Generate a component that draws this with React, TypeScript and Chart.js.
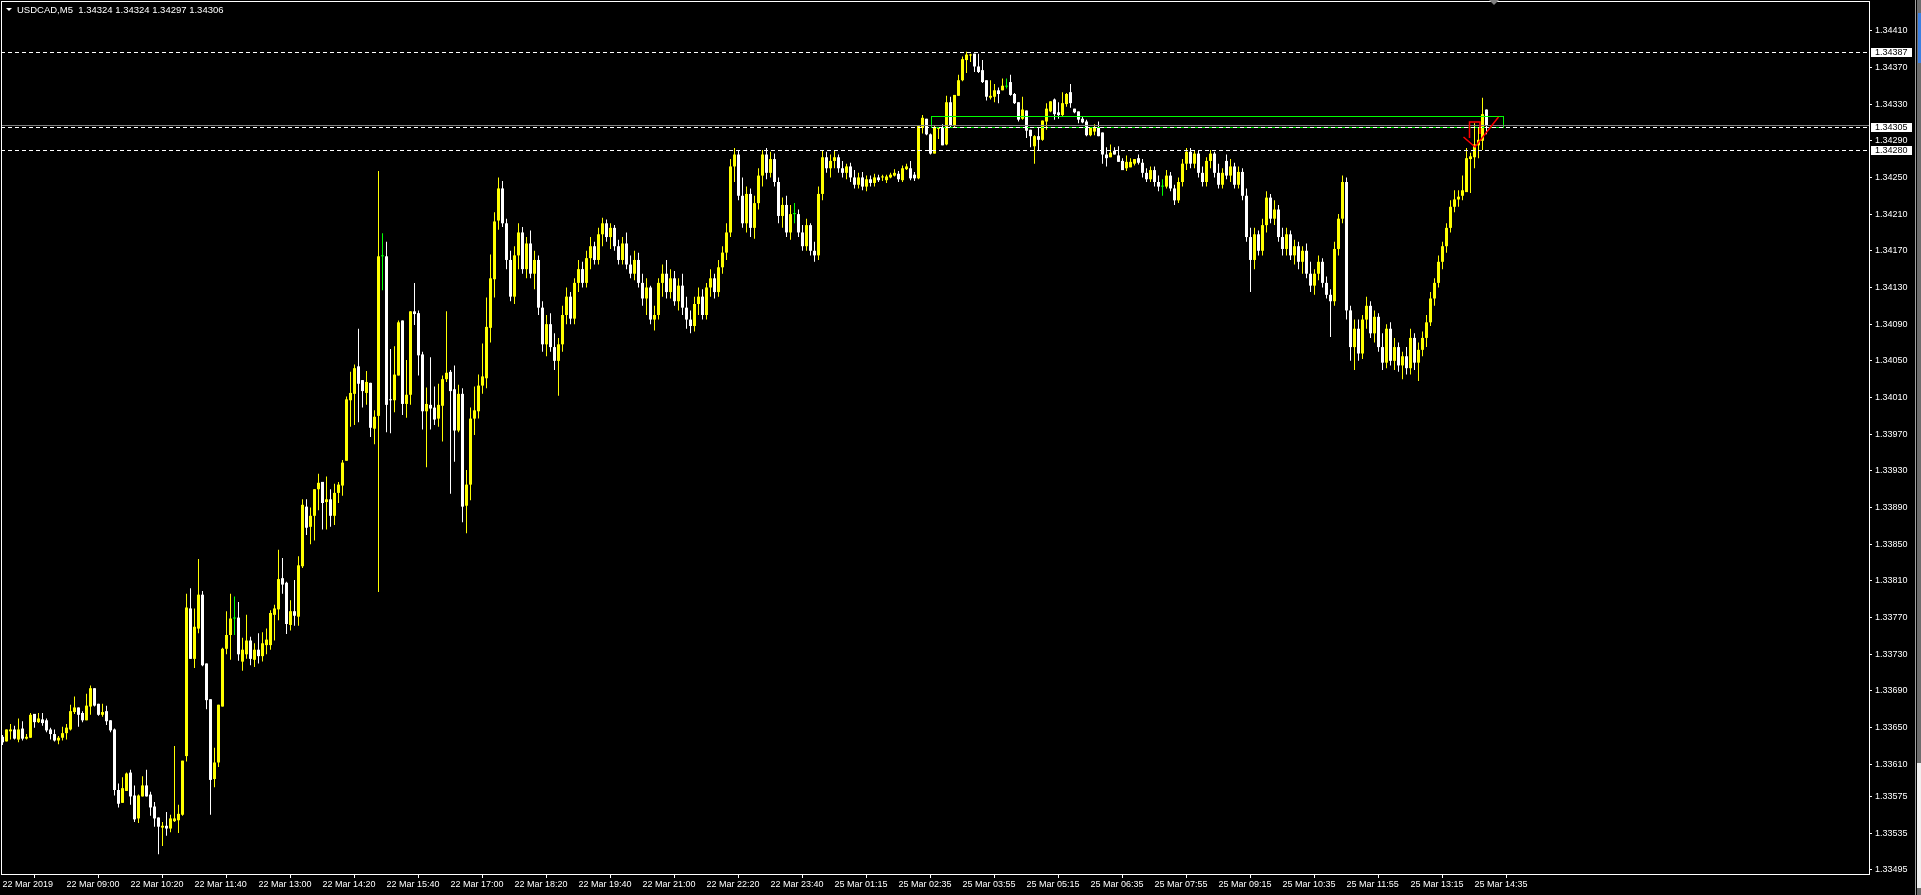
import React, { useEffect, useRef } from 'react';
import { Chart, registerables } from 'chart.js';

Chart.register(...registerables);

// ---- data (prices stored as points above BASE, 1 point = 0.00001) ----
const SYMBOL = 'USDCAD,M5';
const BASE = 1.33;
const POINT = 0.00001;

const openPts = [
  640,635,646,648,637,649,638,639,665,656,
  659,658,648,643,636,639,644,648,667,672,
  666,658,673,693,676,664,668,658,648,582,
  568,581,601,576,551,575,587,577,564,552,
  541,543,540,548,549,555,619,780,725,758,
  795,720,681,594,612,673,736,751,769,770,
  722,730,745,724,735,728,740,740,773,779,
  813,808,762,777,771,826,891,869,881,910,
  918,896,899,881,906,914,941,1007,1014,1044,
  1029,1015,1026,976,990,1164,1164,1008,1007,1034,
  1094,1003,1013,1104,1102,1057,995,1002,999,987,
  1001,1030,1038,1019,974,1014,892,915,987,995,
  1023,1031,1086,1139,1203,
  1238,1200,1160,1120,1165,
  1190,1150,1178,1145,1160,1108,1068,1090,1065,1050,
  1068,1100,1120,1096,1135,1150,1135,1162,1175,1160,
  1188,1200,1185,1195,1175,1160,1178,1155,1145,1160,
  1135,1118,1130,1095,1100,1135,1145,1125,1140,1115,
  1132,1108,1095,1088,1112,1120,1100,1130,1140,1125,
  1152,1168,1190,1262,1275,1230,1200,1232,1195,1222,
  1252,1275,1255,1270,1245,1208,1220,1190,1210,1210,
  1190,1175,1198,1170,1165,1232,1272,1260,1268,1272,
  1260,1255,1262,1250,1242,1250,1240,1248,1244,1250,
  1250,1247,1250,1252,1254,1247,1259,1260,1253,1249,
  1304,1314,1297,1276,1303,1304,1286,1332,1306,1339,
  1356,1378,1383,1385,1371,1367,1356,1337,1338,1345,
  1345,1349,1354,1341,1332,1314,1323,1302,1284,1295,
  1291,1311,1322,1335,1321,1318,1330,1343,1325,1322,
  1314,1311,1296,1300,1305,1299,1275,1272,1279,1274,
  1268,1260,1261,1265,1271,
  1266,1255,1248,1258,1245,
  1240,1240,1252,1238,1225,1245,1265,1278,1265,1276,
  1255,1245,1268,1276,1255,1242,1268,1252,1262,1242,
  1256,1230,1185,1160,1188,1170,1198,1228,1205,1215,
  1185,1172,1188,1165,1175,1158,1170,1145,1132,1145,
  1158,1135,1122,1115,1172,1205,1245,1105,1065,1085,
  1058,1095,1110,1080,1098,1065,1048,1085,1050,1065,
  1045,1055,1042,1075,1048,1062,1075,1092,1118,1135,
  1158,1175,1195,1218,1226,1230,1234,1270,1272,1285,
  1290,1324,
];

const highPts = [
  642,648,654,652,660,657,643,666,665,666,
  666,660,650,648,641,651,654,675,684,672,
  668,687,696,693,676,676,674,658,649,589,
  596,601,604,587,577,597,604,580,569,552,
  547,558,555,630,566,614,796,802,780,834,
  799,720,681,628,675,737,777,796,793,787,
  748,773,749,742,753,754,758,778,784,844,
  835,809,789,811,837,899,899,890,910,927,
  918,924,910,916,918,942,1011,1038,1046,1085,
  1029,1039,1026,996,1257,1189,1180,1063,1066,1094,
  1094,1051,1104,1135,1105,1060,1021,1054,1022,1025,
  1034,1104,1040,1045,1024,1020,931,999,1022,1035,
  1069,1119,1166,1212,1250,
  1246,1205,1170,1175,1200,
  1196,1185,1192,1170,1165,1115,1100,1102,1080,1075,
  1110,1130,1125,1140,1160,1158,1170,1185,1180,1195,
  1206,1204,1200,1198,1182,1185,1190,1165,1170,1168,
  1145,1140,1132,1110,1140,1155,1160,1150,1148,1140,
  1145,1120,1105,1120,1130,1128,1135,1150,1145,1160,
  1175,1200,1270,1282,1280,1250,1240,1238,1230,1260,
  1280,1282,1278,1276,1250,1228,1230,1220,1222,1215,
  1198,1205,1200,1180,1240,1280,1278,1275,1280,1275,
  1268,1265,1266,1258,1255,1256,1252,1252,1254,1253,
  1253,1253,1255,1259,1257,1263,1265,1268,1256,1307,
  1318,1314,1298,1307,1305,1308,1339,1338,1340,1362,
  1382,1387,1385,1385,1385,1378,1356,1356,1352,1348,
  1358,1358,1362,1342,1332,1338,1323,1302,1296,1304,
  1312,1331,1333,1336,1332,1343,1342,1352,1325,1322,
  1316,1313,1304,1308,1311,1299,1283,1286,1283,1284,
  1271,1274,1271,1270,1275,
  1270,1260,1262,1262,1252,
  1248,1258,1256,1242,1250,1270,1282,1282,1280,1280,
  1262,1272,1280,1278,1265,1260,1275,1270,1266,1262,
  1260,1238,1195,1195,1192,1205,1235,1232,1225,1220,
  1195,1195,1192,1182,1180,1175,1178,1158,1150,1165,
  1162,1142,1128,1180,1210,1252,1250,1110,1095,1095,
  1100,1120,1115,1105,1102,1080,1090,1092,1075,1070,
  1060,1065,1085,1080,1070,1082,1100,1125,1140,1165,
  1180,1200,1225,1236,1236,1252,1282,1277,1309,1304,
  1337,1324,
];

const lowPts = [
  631,635,637,637,634,636,637,639,650,655,
  652,645,637,635,632,636,637,647,665,651,
  656,658,664,673,663,662,653,645,576,563,
  568,581,566,547,546,575,575,554,542,512,
  521,532,536,547,535,554,613,725,715,753,
  717,670,555,585,607,673,730,724,751,723,
  712,725,718,716,720,722,730,735,745,767,
  796,752,756,761,761,824,860,850,854,887,
  866,866,869,871,895,903,941,978,980,983,
  999,1002,967,959,798,1127,972,971,994,1034,
  991,988,1002,1089,1034,975,934,975,980,978,
  962,1027,905,940,972,874,862,898,969,987,
  1014,1020,1070,1119,1193,
  1196,1150,1115,1112,1150,
  1145,1140,1140,1128,1100,1060,1055,1060,1040,1012,
  1060,1090,1090,1090,1125,1130,1130,1150,1155,1155,
  1175,1180,1172,1170,1155,1155,1150,1140,1138,1130,
  1110,1100,1090,1083,1095,1120,1118,1118,1110,1105,
  1100,1085,1080,1082,1100,1095,1095,1120,1118,1120,
  1145,1160,1185,1245,1225,1195,1190,1185,1183,1215,
  1240,1248,1250,1240,1200,1195,1185,1182,1200,1185,
  1170,1170,1165,1158,1160,1225,1255,1250,1260,1255,
  1250,1248,1245,1238,1238,1236,1235,1240,1240,1245,
  1246,1244,1249,1251,1245,1245,1258,1247,1246,1248,
  1298,1296,1275,1276,1292,1285,1285,1305,1305,1339,
  1355,1364,1376,1365,1364,1353,1334,1335,1332,1331,
  1345,1347,1339,1330,1311,1313,1293,1283,1265,1279,
  1290,1302,1321,1313,1314,1317,1327,1326,1320,1309,
  1309,1295,1295,1296,1295,1265,1262,1272,1275,1267,
  1258,1257,1261,1263,1264,
  1250,1245,1245,1240,1235,
  1230,1238,1235,1220,1222,1240,1258,1260,1260,1250,
  1240,1240,1260,1250,1238,1238,1248,1245,1238,1238,
  1225,1180,1125,1150,1165,1165,1190,1200,1198,1180,
  1165,1165,1160,1155,1150,1145,1140,1125,1122,1138,
  1130,1118,1076,1110,1165,1200,1095,1050,1040,1050,
  1052,1085,1075,1070,1060,1040,1042,1045,1040,1038,
  1030,1035,1035,1040,1028,1055,1065,1088,1110,1130,
  1150,1168,1190,1212,1218,1225,1234,1233,1260,1271,
  1280,1297,
];

const closePts = [
  634,648,648,638,648,638,640,664,656,660,
  655,647,643,636,639,644,650,668,672,664,
  658,674,693,674,664,667,657,647,582,567,
  584,600,575,550,576,587,575,563,551,542,
  543,540,551,551,556,614,781,725,760,795,
  718,680,593,612,675,736,751,769,769,730,
  735,745,725,735,728,742,746,775,780,812,
  806,763,777,772,827,893,868,881,910,917,
  895,899,881,906,915,939,1008,1015,1042,1025,
  1017,1027,977,989,1164,1164,1002,1007,1035,1092,
  1003,1013,1104,1101,1056,995,1003,998,986,1002,
  1030,1037,1017,974,1014,891,915,987,996,1023,
  1033,1087,1140,1202,1238,
  1200,1160,1120,1165,1190,
  1150,1178,1145,1160,1108,1068,1090,1065,1050,1068,
  1100,1120,1096,1135,1150,1135,1162,1175,1160,1188,
  1200,1185,1195,1175,1160,1178,1155,1145,1160,1135,
  1118,1130,1095,1100,1135,1145,1125,1140,1115,1132,
  1108,1095,1088,1112,1120,1100,1130,1140,1125,1152,
  1168,1190,1262,1275,1230,1200,1232,1195,1222,1252,
  1275,1255,1270,1245,1208,1220,1190,1210,1210,1190,
  1175,1198,1170,1165,1232,1272,1260,1268,1272,1260,
  1255,1262,1250,1242,1250,1240,1248,1244,1250,1247,
  1251,1251,1253,1255,1248,1260,1262,1249,1249,1306,
  1315,1297,1276,1305,1305,1285,1332,1306,1340,1356,
  1379,1384,1384,1371,1365,1354,1338,1339,1345,1341,
  1350,1349,1340,1331,1313,1324,1301,1295,1295,1291,
  1312,1325,1333,1319,1318,1331,1341,1331,1321,1313,
  1310,1296,1304,1304,1295,1275,1271,1277,1275,1267,
  1258,1267,1267,1270,1266,
  1255,1248,1258,1245,1240,
  1240,1252,1238,1225,1245,1265,1278,1265,1276,1255,
  1245,1268,1276,1255,1242,1255,1252,1262,1242,1256,
  1230,1185,1160,1188,1170,1198,1228,1205,1215,1185,
  1172,1188,1165,1175,1158,1170,1145,1132,1145,1158,
  1135,1122,1115,1172,1205,1245,1105,1065,1085,1058,
  1095,1110,1080,1098,1065,1048,1085,1050,1065,1045,
  1055,1042,1075,1048,1062,1075,1092,1118,1135,1158,
  1175,1195,1218,1226,1229,1236,1271,1273,1286,1291,
  1319,1306,
];

const timeLabels = [
  '22 Mar 2019', '22 Mar 09:00', '22 Mar 10:20', '22 Mar 11:40', '22 Mar 13:00',
  '22 Mar 14:20', '22 Mar 15:40', '22 Mar 17:00', '22 Mar 18:20', '22 Mar 19:40',
  '22 Mar 21:00', '22 Mar 22:20', '22 Mar 23:40', '25 Mar 01:15', '25 Mar 02:35',
  '25 Mar 03:55', '25 Mar 05:15', '25 Mar 06:35', '25 Mar 07:55', '25 Mar 09:15',
  '25 Mar 10:35', '25 Mar 11:55', '25 Mar 13:15', '25 Mar 14:35',
];
const timeLabelBars = [
  0, 16, 32, 48, 64, 80, 96, 112, 128, 144, 160, 176,
  192, 208, 224, 240, 256, 272, 288, 304, 320, 336, 352, 368,
];

const priceTicks = [
  1.3441, 1.3437, 1.3433, 1.3429, 1.3425, 1.3421, 1.3417, 1.3413,
  1.3409, 1.3405, 1.3401, 1.3397, 1.3393, 1.3389, 1.3385, 1.3381,
  1.3377, 1.3373, 1.3369, 1.3365, 1.3361, 1.33575, 1.33535, 1.33495,
];

const dashedLevels = [1.34387, 1.34305, 1.3428];
const labelledLevels = [1.34387, 1.34305, 1.3428];
const zoneBars = [232, 375];
const zonePrices = [1.34317, 1.34305];
const arrowBar = 368;

const Y_MIN = 1.334904;
const Y_MAX = 1.344424;
const X_MIN = -0.375;
const X_MAX = 466.625;

const FONT = '"Liberation Sans", Arial, sans-serif';
const BULL = '#ffff00';
const BEAR = '#ffffff';
const DOJI = '#00ff00';

const toPrice = (p: number) => +(BASE + p * POINT).toFixed(5);

export default function App() {
  const ref = useRef<HTMLCanvasElement>(null);

  useEffect(() => {
    document.body.style.margin = '0';
    document.body.style.background = '#000';
    const n = openPts.length;
    const o = openPts.map(toPrice);
    const h = highPts.map(toPrice);
    const l = lowPts.map(toPrice);
    const c = closePts.map(toPrice);
    const colors = o.map((v, i) => (c[i] > v ? BULL : c[i] < v ? BEAR : DOJI));
    const last = n - 1;
    const header = `${SYMBOL}  ${o[last].toFixed(5)} ${h[last].toFixed(5)} ${l[last].toFixed(5)} ${c[last].toFixed(5)}`;

    const overlay = {
      id: 'mt4overlay',
      beforeDraw(chart: any) {
        const ctx = chart.ctx;
        ctx.save();
        ctx.fillStyle = '#000';
        ctx.fillRect(0, 0, chart.width, chart.height);
        ctx.restore();
      },
      afterDatasetsDraw(chart: any) {
        const ctx = chart.ctx;
        const xs = chart.scales.x;
        const ys = chart.scales.y;
        const a = chart.chartArea;
        ctx.save();
        // zone rectangle
        const zx1 = Math.round(xs.getPixelForValue(zoneBars[0])) + 0.5;
        const zx2 = Math.round(xs.getPixelForValue(zoneBars[1])) + 0.5;
        const zy1 = Math.round(ys.getPixelForValue(zonePrices[0])) + 0.5;
        const zy2 = Math.round(ys.getPixelForValue(zonePrices[1])) + 0.5;
        ctx.strokeStyle = '#00ff00';
        ctx.lineWidth = 1;
        ctx.strokeRect(zx1, zy1, zx2 - zx1, zy2 - zy1);
        // bid line
        const by = Math.round(ys.getPixelForValue(c[last])) - 0.5;
        ctx.strokeStyle = '#808080';
        ctx.beginPath();
        ctx.moveTo(a.left, by);
        ctx.lineTo(a.right, by);
        ctx.stroke();
        // dashed levels
        ctx.strokeStyle = '#ffffff';
        ctx.setLineDash([4, 3]);
        for (const lv of dashedLevels) {
          const y = Math.round(ys.getPixelForValue(lv)) + 0.5;
          ctx.beginPath();
          ctx.moveTo(a.left, y);
          ctx.lineTo(a.right, y);
          ctx.stroke();
        }
        ctx.setLineDash([]);
        // sell arrow (outline)
        const ax = xs.getPixelForValue(arrowBar);
        const ay = ys.getPixelForValue(zonePrices[1]);
        ctx.strokeStyle = '#ff0000';
        ctx.lineWidth = 1.5;
        ctx.beginPath();
        ctx.moveTo(ax - 5, ay + 11);
        ctx.lineTo(ax - 5, ay - 5);
        ctx.lineTo(ax + 5.5, ay - 5);
        ctx.lineTo(ax + 5.5, ay + 7);
        ctx.moveTo(ax - 11, ay + 10);
        ctx.lineTo(ax + 0.5, ay + 20);
        ctx.lineTo(ax + 24, ay - 10);
        ctx.stroke();
        ctx.restore();
      },
      afterDraw(chart: any) {
        const ctx = chart.ctx;
        const ys = chart.scales.y;
        const a = chart.chartArea;
        ctx.save();
        // frame
        ctx.strokeStyle = '#ffffff';
        ctx.lineWidth = 1;
        ctx.strokeRect(1.5, 1.5, a.right - 1, a.bottom - 1);
        // header
        ctx.fillStyle = '#ffffff';
        ctx.beginPath();
        ctx.moveTo(6, 8);
        ctx.lineTo(12, 8);
        ctx.lineTo(9, 11);
        ctx.closePath();
        ctx.fill();
        ctx.font = `9.5px ${FONT}`;
        ctx.textBaseline = 'middle';
        ctx.textAlign = 'left';
        ctx.fillText(header, 17, 10);
        // level labels
        ctx.font = `9px ${FONT}`;
        for (const lv of labelledLevels) {
          const y = Math.round(ys.getPixelForValue(lv));
          ctx.fillStyle = '#ffffff';
          ctx.fillRect(a.right + 2, y - 4, 41, 9);
          ctx.fillStyle = '#000000';
          ctx.fillText(lv.toFixed(5), a.right + 6, y + 0.5);
        }
        // chart shift marker
        ctx.fillStyle = '#808080';
        ctx.beginPath();
        ctx.moveTo(1489, 0);
        ctx.lineTo(1499, 0);
        ctx.lineTo(1494, 5);
        ctx.closePath();
        ctx.fill();
        // window scrollbar strip
        ctx.fillStyle = '#a0a0a0';
        ctx.fillRect(1915, 0, 1, chart.height);
        ctx.fillStyle = '#6d6d6d';
        ctx.fillRect(1917, 0, 4, chart.height);
        ctx.fillStyle = '#3d7fe0';
        ctx.fillRect(1918, 13, 3, 50);
        ctx.fillStyle = '#f0f0f0';
        ctx.fillRect(1917, 763, 4, 125);
        ctx.restore();
      },
    };

    const chart = new Chart(ref.current as HTMLCanvasElement, {
      type: 'bar',
      data: {
        datasets: [
          {
            label: 'body',
            data: o.map((v, i) => ({ x: i, y: [v, c[i]] })) as any,
            backgroundColor: colors,
            barThickness: 3,
            minBarLength: 1,
            borderWidth: 0,
            inflateAmount: 0,
            grouped: false,
          } as any,
          {
            label: 'wick',
            data: l.map((v, i) => ({ x: i, y: [v, h[i]] })) as any,
            backgroundColor: colors,
            barThickness: 1,
            minBarLength: 1,
            borderWidth: 0,
            inflateAmount: 0,
            grouped: false,
          } as any,
        ],
      },
      options: {
        responsive: false,
        animation: false,
        devicePixelRatio: 1,
        events: [],
        layout: { padding: { left: 1, top: 1, right: 0, bottom: 0 } },
        plugins: { legend: { display: false }, tooltip: { enabled: false } },
        scales: {
          x: {
            type: 'linear',
            min: X_MIN,
            max: X_MAX,
            offset: false,
            afterBuildTicks: (s: any) => {
              s.ticks = timeLabelBars.map((v) => ({ value: v }));
            },
            afterFit: (s: any) => {
              s.height = 21;
              s.paddingLeft = 0;
              s.paddingRight = 0;
              s.paddingTop = 0;
              s.paddingBottom = 0;
            },
            ticks: {
              autoSkip: false,
              maxRotation: 0,
              minRotation: 0,
              align: 'start',
              padding: 1,
              color: '#ffffff',
              font: { family: FONT, size: 9 },
              callback: (v: any) => timeLabels[timeLabelBars.indexOf(Number(v))] ?? '',
            },
            grid: { drawOnChartArea: false, drawTicks: true, tickLength: 4, color: '#ffffff' },
            border: { display: false },
          },
          y: {
            type: 'linear',
            position: 'right',
            min: Y_MIN,
            max: Y_MAX,
            afterBuildTicks: (s: any) => {
              s.ticks = priceTicks.map((v) => ({ value: v }));
            },
            afterFit: (s: any) => {
              s.width = 52;
              s.paddingTop = 0;
              s.paddingBottom = 0;
              s.paddingLeft = 0;
              s.paddingRight = 0;
            },
            ticks: {
              autoSkip: false,
              padding: 3,
              color: '#ffffff',
              font: { family: FONT, size: 9 },
              callback: (v: any) => Number(v).toFixed(5),
            },
            grid: { drawOnChartArea: false, drawTicks: true, tickLength: 3, color: '#ffffff' },
            border: { display: false },
          },
        },
      } as any,
      plugins: [overlay],
    });
    return () => chart.destroy();
  }, []);

  return (
    <canvas
      ref={ref}
      width={1921}
      height={895}
      style={{ display: 'block', width: 1921, height: 895, background: '#000' }}
    />
  );
}
